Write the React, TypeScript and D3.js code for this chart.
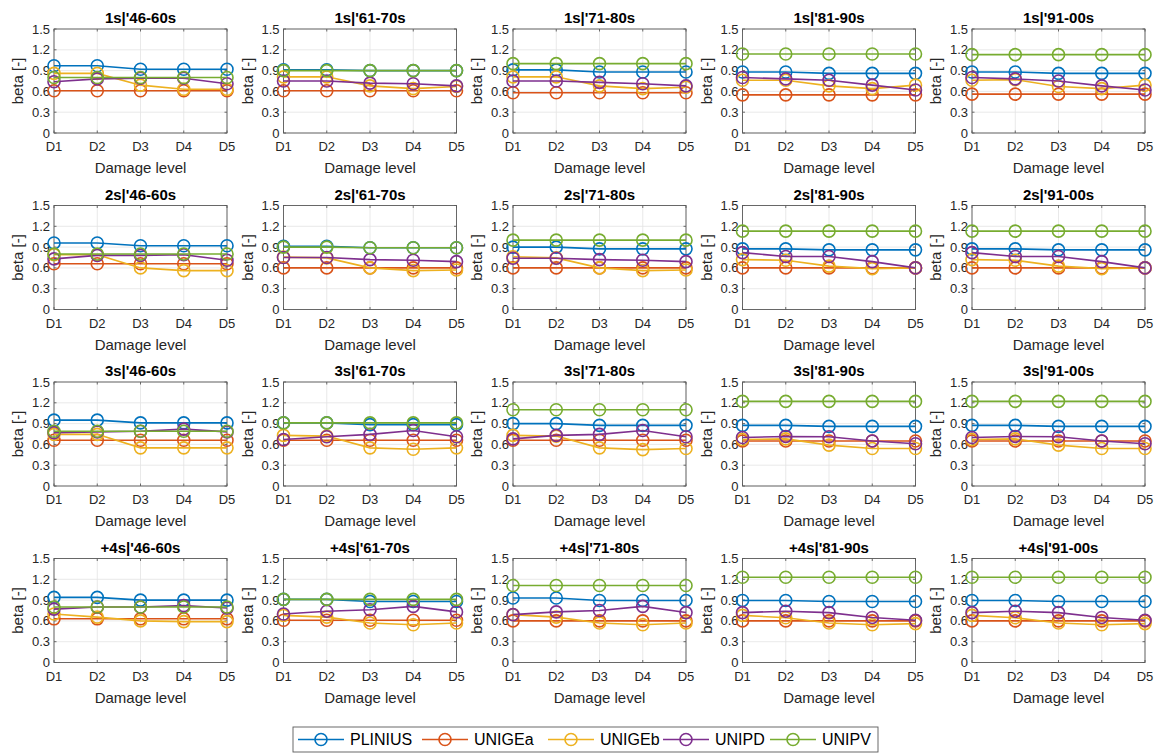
import React from "react";
import * as d3 from "d3";

const damageLevels = ["D1", "D2", "D3", "D4", "D5"];
const yTicks = [0, 0.3, 0.6, 0.9, 1.2, 1.5];
const storeys = ["1s", "2s", "3s", "+4s"];
const periods = ["'46-60s", "'61-70s", "'71-80s", "'81-90s", "'91-00s"];
const seriesNames = ["PLINIUS", "UNIGEa", "UNIGEb", "UNIPD", "UNIPV"];
const seriesColors = ["#0072BD", "#D95319", "#EDB120", "#7E2F8E", "#77AC30"];

// values per panel (row-major: storey x period), 5 damage levels each
const PLINIUS = [
  [0.97, 0.97, 0.92, 0.92, 0.92], [0.91, 0.91, 0.9, 0.9, 0.9], [0.91, 0.91, 0.88, 0.88, 0.88], [0.88, 0.88, 0.86, 0.86, 0.86], [0.88, 0.88, 0.86, 0.86, 0.86],
  [0.96, 0.96, 0.92, 0.92, 0.92], [0.91, 0.91, 0.89, 0.89, 0.89], [0.9, 0.9, 0.875, 0.875, 0.875], [0.875, 0.875, 0.86, 0.86, 0.86], [0.875, 0.875, 0.86, 0.86, 0.86],
  [0.95, 0.95, 0.91, 0.91, 0.91], [0.91, 0.91, 0.885, 0.885, 0.885], [0.9, 0.9, 0.875, 0.875, 0.875], [0.875, 0.875, 0.86, 0.86, 0.86], [0.875, 0.875, 0.86, 0.86, 0.86],
  [0.94, 0.94, 0.9, 0.9, 0.9], [0.91, 0.91, 0.88, 0.88, 0.88], [0.93, 0.93, 0.895, 0.895, 0.895], [0.895, 0.895, 0.88, 0.88, 0.88], [0.895, 0.895, 0.88, 0.88, 0.88],
];
const UNIGEa = [
  [0.61, 0.61, 0.61, 0.61, 0.61], [0.61, 0.61, 0.61, 0.61, 0.61], [0.58, 0.58, 0.58, 0.58, 0.58], [0.55, 0.55, 0.55, 0.55, 0.55], [0.56, 0.56, 0.56, 0.56, 0.56],
  [0.66, 0.66, 0.66, 0.66, 0.66], [0.6, 0.6, 0.6, 0.6, 0.6], [0.6, 0.6, 0.6, 0.6, 0.6], [0.6, 0.6, 0.6, 0.6, 0.6], [0.6, 0.6, 0.6, 0.6, 0.6],
  [0.66, 0.66, 0.66, 0.66, 0.66], [0.66, 0.66, 0.66, 0.66, 0.66], [0.66, 0.66, 0.66, 0.66, 0.66], [0.65, 0.65, 0.65, 0.65, 0.65], [0.65, 0.65, 0.65, 0.65, 0.65],
  [0.63, 0.63, 0.63, 0.63, 0.63], [0.61, 0.61, 0.61, 0.61, 0.61], [0.6, 0.6, 0.6, 0.6, 0.6], [0.6, 0.6, 0.6, 0.6, 0.6], [0.6, 0.6, 0.6, 0.6, 0.6],
];
const UNIGEb = [
  [0.86, 0.86, 0.69, 0.63, 0.63], [0.81, 0.81, 0.68, 0.64, 0.67], [0.81, 0.81, 0.68, 0.64, 0.66], [0.76, 0.76, 0.68, 0.64, 0.69], [0.76, 0.77, 0.67, 0.64, 0.69],
  [0.79, 0.79, 0.6, 0.56, 0.56], [0.755, 0.745, 0.6, 0.56, 0.57], [0.76, 0.745, 0.6, 0.56, 0.57], [0.72, 0.71, 0.625, 0.59, 0.6], [0.72, 0.71, 0.625, 0.59, 0.6],
  [0.745, 0.745, 0.55, 0.55, 0.55], [0.73, 0.72, 0.55, 0.53, 0.55], [0.73, 0.72, 0.55, 0.525, 0.54], [0.67, 0.68, 0.59, 0.54, 0.54], [0.67, 0.68, 0.59, 0.54, 0.54],
  [0.7, 0.655, 0.6, 0.59, 0.59], [0.68, 0.655, 0.57, 0.545, 0.57], [0.69, 0.655, 0.57, 0.545, 0.57], [0.68, 0.645, 0.57, 0.545, 0.56], [0.68, 0.645, 0.57, 0.545, 0.56],
];
const UNIPD = [
  [0.74, 0.78, 0.79, 0.79, 0.71], [0.75, 0.75, 0.72, 0.71, 0.68], [0.75, 0.75, 0.73, 0.71, 0.68], [0.8, 0.78, 0.76, 0.69, 0.62], [0.8, 0.78, 0.75, 0.68, 0.62],
  [0.73, 0.78, 0.78, 0.79, 0.71], [0.75, 0.75, 0.72, 0.71, 0.69], [0.74, 0.74, 0.72, 0.71, 0.69], [0.82, 0.765, 0.765, 0.69, 0.6], [0.82, 0.765, 0.765, 0.69, 0.6],
  [0.77, 0.78, 0.79, 0.82, 0.78], [0.67, 0.71, 0.745, 0.8, 0.71], [0.68, 0.73, 0.745, 0.8, 0.71], [0.7, 0.715, 0.71, 0.65, 0.61], [0.7, 0.715, 0.71, 0.65, 0.61],
  [0.77, 0.8, 0.8, 0.82, 0.785], [0.7, 0.74, 0.76, 0.81, 0.73], [0.69, 0.73, 0.75, 0.81, 0.72], [0.72, 0.74, 0.72, 0.65, 0.61], [0.72, 0.74, 0.72, 0.65, 0.61],
];
const UNIPV = [
  [0.8, 0.8, 0.8, 0.8, 0.8], [0.9, 0.9, 0.9, 0.9, 0.9], [1.0, 1.0, 1.0, 1.0, 1.0], [1.14, 1.14, 1.14, 1.14, 1.14], [1.13, 1.13, 1.13, 1.13, 1.13],
  [0.8, 0.8, 0.8, 0.8, 0.8], [0.9, 0.9, 0.89, 0.89, 0.89], [1.0, 1.0, 1.0, 1.0, 1.0], [1.13, 1.13, 1.13, 1.13, 1.13], [1.13, 1.13, 1.13, 1.13, 1.13],
  [0.79, 0.79, 0.79, 0.79, 0.79], [0.91, 0.91, 0.91, 0.91, 0.91], [1.1, 1.1, 1.1, 1.1, 1.1], [1.22, 1.22, 1.22, 1.22, 1.22], [1.22, 1.22, 1.22, 1.22, 1.22],
  [0.8, 0.8, 0.8, 0.8, 0.8], [0.91, 0.91, 0.91, 0.91, 0.91], [1.11, 1.11, 1.11, 1.11, 1.11], [1.23, 1.23, 1.23, 1.23, 1.23], [1.23, 1.23, 1.23, 1.23, 1.23],
];
const allSeries = [PLINIUS, UNIGEa, UNIGEb, UNIPD, UNIPV];

const W = 1156;
const H = 753;
const PW = 173;
const PH = 104;
const FONT = "'Liberation Sans', Arial, Helvetica, sans-serif";
const TXT = "#262626";

function Panel({ idx }: { idx: number }) {
  const r = Math.floor(idx / 5);
  const c = idx % 5;
  const left = 54 + c * 229.5;
  const top = 29 + r * 176.5;
  const x = d3.scalePoint<string>().domain(damageLevels).range([0, PW]);
  const y = d3.scaleLinear().domain([0, 1.5]).range([PH, 0]);
  const line = d3
    .line<number>()
    .x((_, i) => x(damageLevels[i]) as number)
    .y((v) => y(v));
  return (
    <g transform={`translate(${left},${top})`}>
      <rect x={0} y={0} width={PW} height={PH} fill="#fff" />
      {yTicks.map((t) => (
        <line key={"gy" + t} x1={0} x2={PW} y1={y(t)} y2={y(t)} stroke="#e3e3e3" strokeWidth={0.8} />
      ))}
      {damageLevels.map((d) => (
        <line key={"gx" + d} x1={x(d)} x2={x(d)} y1={0} y2={PH} stroke="#e3e3e3" strokeWidth={0.8} />
      ))}
      <rect x={0} y={0} width={PW} height={PH} fill="none" stroke="#5a5a5a" strokeWidth={0.9} />
      {yTicks.map((t) => (
        <g key={"ty" + t}>
          <line x1={0} x2={2.5} y1={y(t)} y2={y(t)} stroke="#5a5a5a" strokeWidth={0.9} />
          <line x1={PW - 2.5} x2={PW} y1={y(t)} y2={y(t)} stroke="#5a5a5a" strokeWidth={0.9} />
          <text x={-4} y={y(t)} dy="0.35em" textAnchor="end" fontSize={13} fill={TXT} fontFamily={FONT}>
            {t === 0 ? "0" : t.toFixed(1)}
          </text>
        </g>
      ))}
      {damageLevels.map((d) => (
        <g key={"tx" + d}>
          <line x1={x(d)} x2={x(d)} y1={PH} y2={PH - 2.5} stroke="#5a5a5a" strokeWidth={0.9} />
          <line x1={x(d)} x2={x(d)} y1={0} y2={2.5} stroke="#5a5a5a" strokeWidth={0.9} />
          <text x={x(d)} y={PH + 18} textAnchor="middle" fontSize={13} fill={TXT} fontFamily={FONT}>
            {d}
          </text>
        </g>
      ))}
      <text x={PW / 2} y={PH + 40} textAnchor="middle" fontSize={15} fill={TXT} fontFamily={FONT}>
        Damage level
      </text>
      <text
        transform={`translate(${-31},${PH / 2}) rotate(-90)`}
        textAnchor="middle"
        fontSize={15}
        fill={TXT}
        fontFamily={FONT}
      >
        beta [-]
      </text>
      <text x={PW / 2} y={-6} textAnchor="middle" fontSize={15} fontWeight="bold" fill="#000" fontFamily={FONT}>
        {storeys[r] + "|" + periods[c]}
      </text>
      {allSeries.map((s, si) => (
        <g key={"s" + si}>
          <path d={line(s[idx]) || ""} fill="none" stroke={seriesColors[si]} strokeWidth={1.6} />
          {s[idx].map((v, i) => (
            <circle
              key={i}
              cx={x(damageLevels[i])}
              cy={y(v)}
              r={6}
              fill="none"
              stroke={seriesColors[si]}
              strokeWidth={1.6}
            />
          ))}
        </g>
      ))}
    </g>
  );
}

function Legend() {
  const bx = 293;
  const by = 727;
  const bw = 585;
  const bh = 25;
  const itemX = [298, 422, 548, 663, 770];
  return (
    <g>
      <rect x={bx} y={by} width={bw} height={bh} fill="#fff" stroke="#5a5a5a" strokeWidth={0.9} />
      {seriesNames.map((n, i) => (
        <g key={n} transform={`translate(${itemX[i]},${by + bh / 2})`}>
          <line x1={0} x2={46} y1={0} y2={0} stroke={seriesColors[i]} strokeWidth={1.6} />
          <circle cx={23} cy={0} r={6} fill="none" stroke={seriesColors[i]} strokeWidth={1.6} />
          <text x={52} y={0} dy="0.35em" fontSize={16} fill="#000" fontFamily={FONT}>
            {n}
          </text>
        </g>
      ))}
    </g>
  );
}

export default function App() {
  return (
    <svg
      width={W}
      height={H}
      style={{ position: "absolute", left: 0, top: 0, background: "#fff" }}
    >
      <rect width={W} height={H} fill="#fff" />
      {d3.range(20).map((i) => (
        <Panel key={i} idx={i} />
      ))}
      <Legend />
    </svg>
  );
}
